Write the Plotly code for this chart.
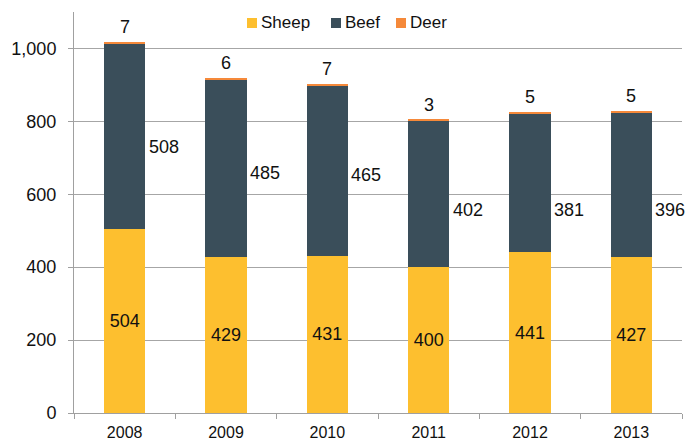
import plotly.graph_objects as go

years = ["2008", "2009", "2010", "2011", "2012", "2013"]
sheep = [504, 429, 431, 400, 441, 427]
beef = [508, 485, 465, 402, 381, 396]
deer = [7, 6, 7, 3, 5, 5]

# vertical placement of the beef labels (axis units), set beside each bar
beef_label_y = [731, 657, 652, 556, 556, 556]

SHEEP_C = "#FDBF2F"
BEEF_C = "#3A4E5A"
DEER_C = "#F5893A"
FONT = "Liberation Sans, Arial, sans-serif"
TXT = "#111111"

W, H = 689, 440
ML, MR, MT, MB = 74, 7, 12, 27
PW, PH = W - ML - MR, H - MT - MB

fig = go.Figure()
fig.add_trace(go.Bar(
    x=years, y=sheep, name="Sheep", marker=dict(color=SHEEP_C, line=dict(width=0)),
    text=[str(v) for v in sheep], textposition="inside", insidetextanchor="middle",
    textangle=0, textfont=dict(size=18, color=TXT, family=FONT),
))
fig.add_trace(go.Bar(
    x=years, y=beef, name="Beef", marker=dict(color=BEEF_C, line=dict(width=0)),
))
fig.add_trace(go.Bar(
    x=years, y=deer, name="Deer", marker=dict(color=DEER_C, line=dict(width=0)),
))

totals = [s + b + d for s, b, d in zip(sheep, beef, deer)]

# annotations on the category axis are positioned by category index
annotations = []
for i, (b, ly) in enumerate(zip(beef, beef_label_y)):
    annotations.append(dict(
        x=i, y=ly, text=str(b), showarrow=False, xanchor="left", yanchor="middle",
        xshift=22, font=dict(size=18, color=TXT, family=FONT),
    ))
for i, (d, t) in enumerate(zip(deer, totals)):
    annotations.append(dict(
        x=i, y=t, text=str(d), showarrow=False, xanchor="center", yanchor="bottom",
        yshift=3, font=dict(size=18, color=TXT, family=FONT),
    ))

# compact legend: small square swatch followed closely by the series name
def px_x(p):
    return (p - ML) / PW


def px_y(p):
    return (H - MB - p) / PH


legend_items = [("Sheep", SHEEP_C, 247), ("Beef", BEEF_C, 331), ("Deer", DEER_C, 396)]
shapes = []
for name, color, left in legend_items:
    shapes.append(dict(
        type="rect", xref="paper", yref="paper",
        x0=px_x(left), x1=px_x(left + 10), y0=px_y(28), y1=px_y(18),
        fillcolor=color, line=dict(width=0),
    ))
    annotations.append(dict(
        xref="paper", yref="paper", x=px_x(left + 12), y=px_y(23),
        text=name, showarrow=False, xanchor="left", yanchor="middle",
        font=dict(size=17, color=TXT, family=FONT),
    ))

fig.update_layout(
    barmode="stack",
    bargap=0.595,
    width=W, height=H,
    margin=dict(l=ML, r=MR, t=MT, b=MB, autoexpand=False),
    plot_bgcolor="white", paper_bgcolor="white",
    font=dict(family=FONT, size=18, color=TXT),
    showlegend=False,
    annotations=annotations,
    shapes=shapes,
    xaxis=dict(
        type="category", range=[-0.5, len(years) - 0.5], automargin=False,
        showline=True, linecolor="#A0A0A0", linewidth=1,
        ticks="outside", tickson="boundaries", ticklen=5, tickcolor="#A0A0A0",
        tickfont=dict(size=16, family=FONT, color=TXT),
        ticklabelstandoff=5,
        tickangle=0, showgrid=False, fixedrange=True,
    ),
    yaxis=dict(
        range=[0, 1100], tickvals=[0, 200, 400, 600, 800, 1000], tickformat=",",
        automargin=False,
        showline=True, linecolor="#A0A0A0", linewidth=1,
        ticks="outside", ticklen=5, tickcolor="#A0A0A0",
        showgrid=True, gridcolor="#A6A6A6", gridwidth=1,
        tickfont=dict(size=18, family=FONT, color=TXT),
        ticklabelstandoff=8, zeroline=False,
    ),
)

fig.write_html("out.html")
